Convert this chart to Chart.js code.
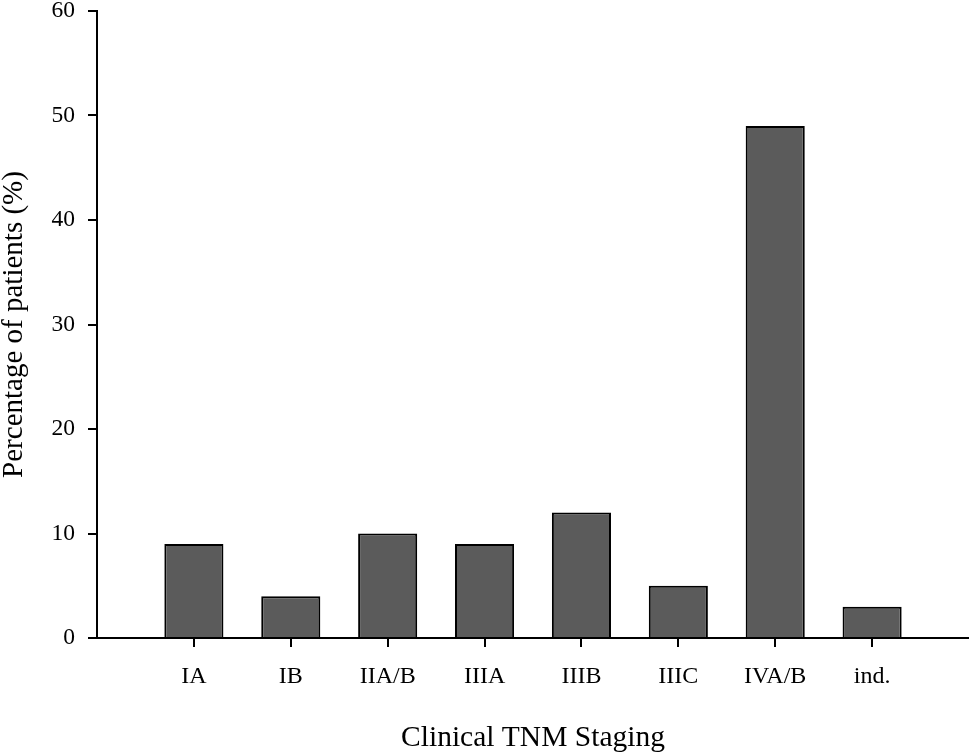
<!DOCTYPE html>
<html>
<head>
<meta charset="utf-8">
<script src="https://cdn.jsdelivr.net/npm/chart.js@4/dist/chart.umd.min.js"></script>
<style>
  body { margin: 0; background: #fff; }
  #wrap { width: 969px; height: 754px; }
</style>
</head>
<body>
<div id="wrap"><canvas id="myChart"></canvas></div>
<script>
// Clinical TNM staging distribution
var stages = ['IA', 'IB', 'IIA/B', 'IIIA', 'IIIB', 'IIIC', 'IVA/B', 'ind.'];
var percentages = [9, 4, 10, 9, 12, 5, 49, 3];
var yTicks = [0, 10, 20, 30, 40, 50, 60];

// empty slot at each end so the axis runs past the first and last bar
var labels = [''].concat(stages, ['']);
var values = [null].concat(percentages, [null]);

var serif = '"Liberation Serif", "Times New Roman", serif';

var ctx = document.getElementById('myChart').getContext('2d');
var chart = new Chart(ctx, {
    type: 'bar',
    data: {
        labels: labels,
        datasets: [{
            data: values,
            backgroundColor: '#5b5b5b',
            borderColor: '#000',
            borderWidth: 2,
            barPercentage: 0.61,
            categoryPercentage: 1
        }]
    },
    options: {
        responsive: true,
        maintainAspectRatio: false,
        animation: false,
        layout: { padding: { top: 11, right: 0, left: 0, bottom: 0 } },
        plugins: {
            legend: { display: false },
            tooltip: { enabled: false }
        },
        scales: {
            x: {
                offset: false,
                grid: {
                    offset: false,
                    drawOnChartArea: false,
                    tickLength: 9,
                    lineWidth: 2,
                    tickColor: function(c) { return labels[c.index] ? '#000' : 'rgba(0,0,0,0)'; }
                },
                border: { color: '#000', width: 2 },
                ticks: {
                    color: '#000',
                    padding: 15,
                    maxRotation: 0,
                    autoSkip: false,
                    font: { family: serif, size: 24 }
                },
                title: {
                    display: true,
                    text: 'Clinical TNM Staging',
                    color: '#000',
                    padding: { top: 0, bottom: 0 },
                    font: { family: serif, size: 29.5, lineHeight: 1.1 }
                },
                afterFit: function(s) {
                    s.height = 116;
                    s.paddingLeft = 0;
                    s.paddingRight = 0;
                }
            },
            y: {
                min: 0,
                max: 60,
                afterBuildTicks: function(s) {
                    s.ticks = yTicks.map(function(v) { return { value: v }; });
                },
                grid: {
                    drawOnChartArea: false,
                    tickLength: 9,
                    lineWidth: 2,
                    color: '#000'
                },
                border: { color: '#000', width: 2 },
                ticks: {
                    color: '#000',
                    padding: 13,
                    font: { family: serif, size: 23.5 }
                },
                title: {
                    display: true,
                    text: 'Percentage of patients (%)',
                    color: '#000',
                    padding: { top: 0, bottom: 0 },
                    font: { family: serif, size: 29, lineHeight: 1 }
                },
                afterFit: function(s) {
                    s.width = 97;
                    s.paddingTop = 0;
                    s.paddingBottom = 0;
                }
            }
        }
    }
});
</script>
</body>
</html>
